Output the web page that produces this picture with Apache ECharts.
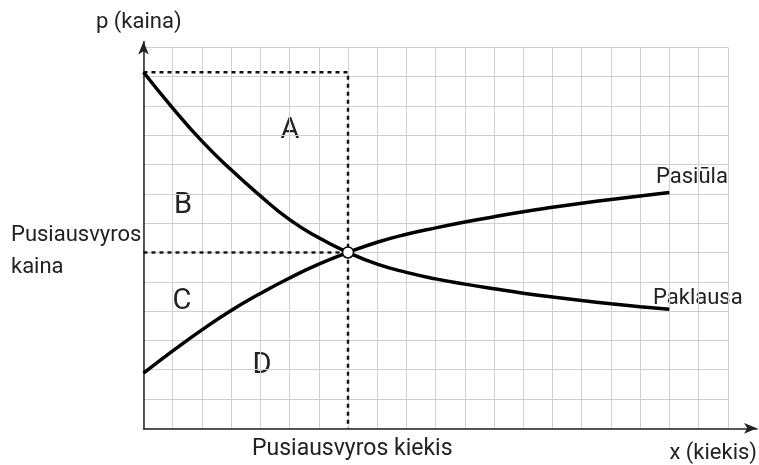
<!DOCTYPE html>
<html><head><meta charset="utf-8">
<script src="https://cdn.jsdelivr.net/npm/echarts@6/dist/echarts.min.js"></script>
<style>html,body{margin:0;padding:0;background:#fff}#c{width:759px;height:465px}</style>
</head><body><div id="c"></div>
<script>
var quantities = [0,1,2,3,4,5,6,7,8,9,10,11,12,13,14,15,16,17,18];
var demand = [12.15,10.93,9.8,8.82,7.93,7.12,6.5,6.0,5.6,5.32,5.1,4.92,4.76,4.61,4.48,4.36,4.25,4.15,4.06];
var supply = [1.88,2.64,3.36,4.02,4.6,5.13,5.6,6.0,6.35,6.62,6.84,7.04,7.22,7.39,7.54,7.68,7.81,7.93,8.05];
var eqQ = 7, eqP = 6, maxP = 12.15;
var areaLabels = [['A',290,131],['B',183,206],['C',182,302],['D',262,366]];

var FONT = 'Roboto, Liberation Sans, sans-serif';
var chart = echarts.init(document.getElementById('c'));
function pairs(xs, ys){ return xs.map(function(x,i){ return [x, ys[i]]; }); }
var dashStyle = {color:'#111', width:2.4, type:[4,4]};
var texts = [
  {type:'text', left:96, top:11, style:{text:'p (kaina)', font:'22px '+FONT, fill:'#222'}},
  {type:'text', left:11, top:219, style:{text:'Pusiausvyros\nkaina', font:'22px '+FONT, fill:'#222', lineHeight:32}},
  {type:'text', left:252, top:438, style:{text:'Pusiausvyros kiekis', font:'23px '+FONT, fill:'#222'}},
  {type:'text', x:757, y:453, style:{text:'x (kiekis)', font:'22px '+FONT, fill:'#222', align:'right', verticalAlign:'middle'}},
  {type:'text', x:656, y:177, style:{text:'Pasiūla', font:'22px '+FONT, fill:'#222', verticalAlign:'middle'}},
  {type:'text', x:653, y:298, style:{text:'Paklausa', font:'22px '+FONT, fill:'#222', verticalAlign:'middle'}}
];
areaLabels.forEach(function(a){
  texts.push({type:'text', x:a[1], y:a[2], style:{text:a[0], font:'29px '+FONT, fill:'#222', align:'center', verticalAlign:'middle'}});
});
chart.setOption({
  animation:false,
  grid:[
    {left:143.5, right:31.2, top:47.4, bottom:36.7},
    {left:143.5, right:2, top:41.5, bottom:36.7}
  ],
  xAxis:[
    {gridIndex:0, type:'value', min:0, max:20, interval:1, axisLine:{show:false}, axisTick:{show:false}, axisLabel:{show:false}, splitLine:{show:true, lineStyle:{color:'#d0d0d0', width:1}}},
    {gridIndex:1, type:'value', min:0, max:21, interval:1, axisLine:{show:true, onZero:false, symbol:['none','arrow'], symbolSize:[8,13], lineStyle:{color:'#222', width:1.5}}, axisTick:{show:false}, axisLabel:{show:false}, splitLine:{show:false}}
  ],
  yAxis:[
    {gridIndex:0, type:'value', min:0, max:13, interval:1, axisLine:{show:false}, axisTick:{show:false}, axisLabel:{show:false}, splitLine:{show:true, lineStyle:{color:'#d0d0d0', width:1}}},
    {gridIndex:1, type:'value', min:0, max:13.2, interval:1, axisLine:{show:true, onZero:false, symbol:['none','arrow'], symbolSize:[8,13], lineStyle:{color:'#222', width:1.5}}, axisTick:{show:false}, axisLabel:{show:false}, splitLine:{show:false}}
  ],
  series:[
    {type:'line', xAxisIndex:1, yAxisIndex:1, data:[[0,maxP],[eqQ,maxP],[eqQ,0]], showSymbol:false, lineStyle:dashStyle, z:3},
    {type:'line', xAxisIndex:1, yAxisIndex:1, data:[[0,eqP],[eqQ,eqP]], showSymbol:false, lineStyle:dashStyle, z:3},
    {type:'line', xAxisIndex:1, yAxisIndex:1, data:pairs(quantities,demand), smooth:0.5, showSymbol:false, lineStyle:{color:'#000', width:3.5}, z:4},
    {type:'line', xAxisIndex:1, yAxisIndex:1, data:pairs(quantities,supply), smooth:0.5, showSymbol:false, lineStyle:{color:'#000', width:3.5}, z:4},
    {type:'scatter', xAxisIndex:1, yAxisIndex:1, data:[[eqQ,eqP]], symbol:'circle', symbolSize:11, itemStyle:{color:'#fff', opacity:1, borderColor:'#000', borderWidth:1.5}, z:6}
  ],
  graphic:texts
});
</script></body></html>
